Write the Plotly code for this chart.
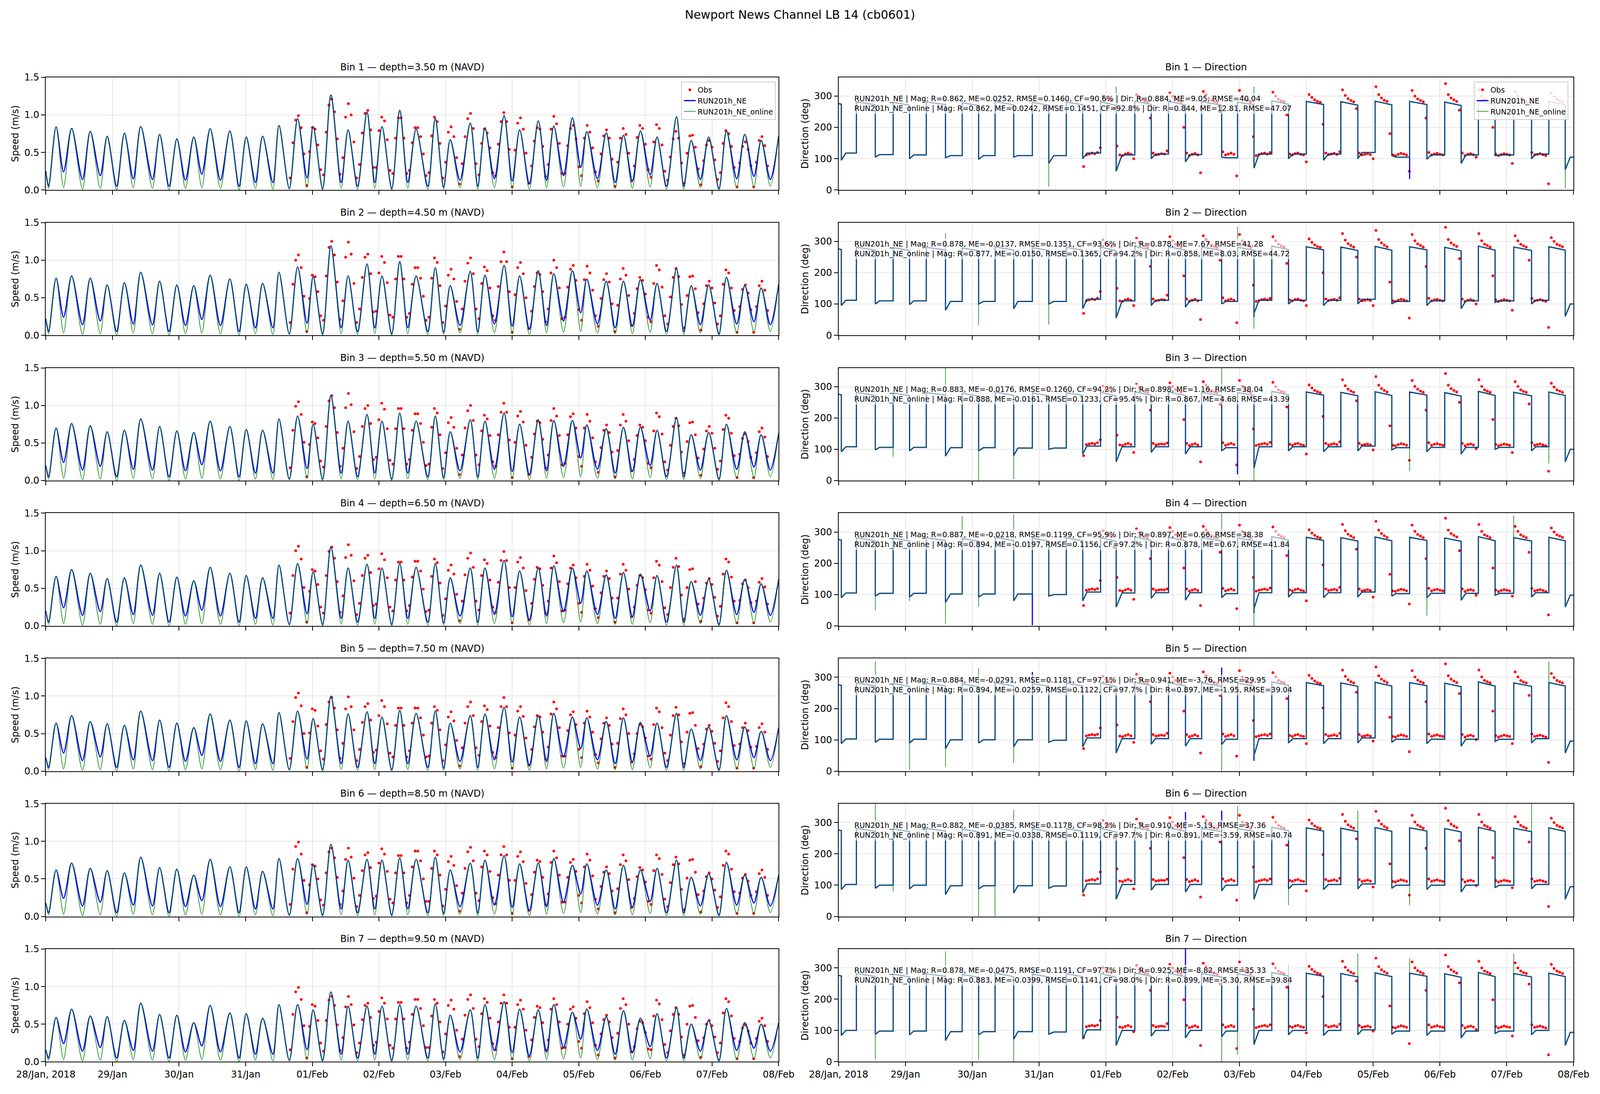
import pandas as pd
import plotly.graph_objects as go
from plotly.subplots import make_subplots

# ---------------- time base (hours after 28 Jan 2018 00:00) ----------------
start_time = pd.Timestamp("2018-01-28 00:00")
end_hour = 264.0

# slack (speed minima) and speed maxima of the model, shared by all bins
trough_hours = [1.0, 6.4, 13.2, 19.6, 25.5, 31.5, 38.4, 44.4, 50.3, 56.2, 62.9, 69.6, 75.5, 81.8,
                87.7, 94.1, 99.7, 106.4, 112.3, 118.5, 124.6, 130.4, 137.6, 143.3, 149.2, 155.6,
                161.6, 168.0, 174.2, 180.4, 186.5, 192.7, 198.7, 205.1, 211.3, 217.7, 223.6, 229.8,
                235.8, 242.5, 248.9, 255.1, 261.0]
peak_hours = [3.7, 9.3, 16.0, 22.1, 28.3, 34.2, 41.0, 47.2, 53.3, 59.2, 66.3, 72.2, 78.1, 84.0,
              90.7, 96.3, 102.7, 108.9, 115.7, 121.1, 127.5, 133.4, 140.3, 145.7, 152.9, 158.2,
              165.1, 170.7, 177.4, 183.0, 189.7, 194.9, 201.9, 208.1, 214.2, 220.2, 227.2, 232.5,
              238.8, 245.2, 251.8, 257.7]
# time at which the ebb direction settles on its plateau
ebb_knee_hours = [2.6, 14.7, 27.0, 40.2, 52.0, 64.4, 77.3, 89.2, 101.8, 113.8, 126.3, 139.1, 151.0,
                  163.1, 175.9, 188.0, 200.2, 212.8, 225.3, 237.3, 250.4, 262.8]

blue_trough_speed = [0.05, 0.24, 0.14, 0.19, 0.05, 0.15, 0.14, 0.05, 0.13, 0.21, 0.13, 0.05, 0.10, 0.10,
                     0.02, 0.16, 0.02, 0.10, 0.05, 0.10, 0.02, 0.10, 0.05, 0.04, 0.13, 0.05, 0.15, 0.12,
                     0.08, 0.13, 0.19, 0.30, 0.15, 0.10, 0.12, 0.20, 0.05, 0.05, 0.14, 0.02, 0.15, 0.18, 0.14]
green_trough_speed = [0.02, 0.03, 0.01, 0.02, 0.00, 0.03, 0.02, 0.00, 0.02, 0.03, 0.02, 0.00, 0.02, 0.01,
                      0.01, 0.03, 0.00, 0.02, 0.01, 0.02, 0.00, 0.02, 0.01, 0.01, 0.03, 0.01, 0.03, 0.02,
                      0.01, 0.03, 0.04, 0.05, 0.03, 0.02, 0.02, 0.04, 0.01, 0.01, 0.03, 0.00, 0.03, 0.04, 0.05]

speed_start = [0.25, 0.22, 0.20, 0.20, 0.18, 0.18, 0.16]
speed_end = [0.72, 0.68, 0.63, 0.62, 0.58, 0.55, 0.52]

peak_speed_bin1 = [0.84, 0.82, 0.78, 0.715, 0.755, 0.845, 0.74, 0.68, 0.705, 0.815, 0.785, 0.705, 0.715, 0.86,
                   0.95, 0.845, 1.265, 0.80, 1.035, 0.845, 1.06, 0.81, 0.95, 0.67, 0.89, 0.83, 0.99, 0.80,
                   0.92, 0.85, 0.96, 0.775, 0.76, 0.73, 0.785, 0.705, 0.975, 0.66, 0.705, 0.785, 0.74, 0.66]
peak_speed_bin2 = [0.76, 0.79, 0.76, 0.67, 0.70, 0.84, 0.72, 0.67, 0.66, 0.80, 0.75, 0.68, 0.69, 0.84,
                   0.91, 0.78, 1.19, 0.79, 0.95, 0.79, 0.98, 0.79, 0.90, 0.66, 0.85, 0.80, 0.93, 0.79,
                   0.86, 0.82, 0.86, 0.75, 0.72, 0.72, 0.74, 0.69, 0.89, 0.66, 0.67, 0.77, 0.66, 0.63]
peak_speed_bin3 = [0.70, 0.76, 0.73, 0.65, 0.67, 0.82, 0.72, 0.66, 0.64, 0.79, 0.72, 0.68, 0.67, 0.82,
                   0.86, 0.75, 1.13, 0.79, 0.88, 0.79, 0.90, 0.79, 0.86, 0.65, 0.81, 0.79, 0.90, 0.75,
                   0.81, 0.80, 0.80, 0.74, 0.69, 0.71, 0.71, 0.67, 0.84, 0.61, 0.64, 0.75, 0.65, 0.61]
peak_speed_bin4 = [0.66, 0.75, 0.70, 0.63, 0.64, 0.81, 0.70, 0.65, 0.60, 0.78, 0.70, 0.67, 0.64, 0.81,
                   0.83, 0.72, 1.05, 0.77, 0.82, 0.77, 0.83, 0.78, 0.83, 0.64, 0.77, 0.77, 0.87, 0.73,
                   0.77, 0.80, 0.77, 0.73, 0.68, 0.71, 0.69, 0.67, 0.81, 0.59, 0.62, 0.74, 0.62, 0.56]
peak_speed_bin5 = [0.64, 0.74, 0.66, 0.63, 0.61, 0.80, 0.68, 0.64, 0.58, 0.76, 0.68, 0.67, 0.63, 0.78,
                   0.80, 0.70, 1.00, 0.76, 0.79, 0.72, 0.81, 0.77, 0.80, 0.64, 0.74, 0.76, 0.85, 0.72,
                   0.74, 0.77, 0.72, 0.71, 0.66, 0.71, 0.65, 0.64, 0.77, 0.56, 0.59, 0.74, 0.59, 0.53]
peak_speed_bin6 = [0.62, 0.71, 0.64, 0.61, 0.58, 0.79, 0.65, 0.63, 0.55, 0.76, 0.66, 0.66, 0.60, 0.77,
                   0.77, 0.69, 0.96, 0.75, 0.76, 0.75, 0.78, 0.76, 0.79, 0.62, 0.71, 0.75, 0.81, 0.70,
                   0.71, 0.77, 0.68, 0.70, 0.62, 0.68, 0.62, 0.64, 0.75, 0.52, 0.57, 0.72, 0.55, 0.52]
peak_speed_bin7 = [0.59, 0.70, 0.61, 0.60, 0.55, 0.78, 0.63, 0.62, 0.52, 0.75, 0.65, 0.64, 0.58, 0.76,
                   0.76, 0.69, 0.93, 0.74, 0.74, 0.74, 0.76, 0.74, 0.77, 0.62, 0.69, 0.76, 0.80, 0.70,
                   0.69, 0.76, 0.66, 0.70, 0.60, 0.68, 0.58, 0.64, 0.72, 0.50, 0.55, 0.71, 0.52, 0.50]

# model direction: flood plateau (start, end) shared, ebb (start dip, plateau) per bin
flood_start_dir = [276, 282, 280, 281, 279, 283, 280, 281, 282, 284, 283, 282, 281, 285, 283, 282, 284, 283, 281, 285, 282, 283]
flood_end_dir = [274, 272, 271, 273, 270, 272, 271, 272, 270, 273, 272, 271, 272, 274, 273, 271, 272, 273, 270, 272, 271, 272]

ebb_lo_bin1 = [95, 105, 100, 103, 98, 105, 85, 100, 60, 100, 90, 105, 70, 100, 95, 100, 110, 98, 85, 110, 100, 65]
ebb_hi_bin1 = [118, 113, 112, 110, 110, 110, 110, 118, 112, 115, 113, 103, 115, 115, 115, 120, 105, 112, 112, 112, 115, 105]
ebb_lo_bin2 = [95, 100, 98, 80, 100, 85, 100, 85, 55, 95, 90, 100, 70, 100, 95, 100, 100, 95, 85, 105, 100, 60]
ebb_hi_bin2 = [112, 110, 110, 108, 108, 108, 108, 115, 110, 112, 112, 108, 112, 112, 112, 115, 108, 110, 110, 110, 112, 100]
ebb_lo_bin3 = [92, 98, 95, 78, 95, 80, 100, 85, 60, 90, 85, 95, 40, 95, 92, 95, 98, 92, 85, 100, 95, 60]
ebb_hi_bin3 = [108, 106, 106, 105, 105, 104, 104, 110, 108, 108, 108, 105, 108, 108, 108, 110, 105, 106, 106, 106, 108, 100]
ebb_lo_bin4 = [90, 95, 92, 75, 92, 80, 95, 80, 60, 88, 82, 90, 55, 92, 90, 92, 95, 90, 82, 98, 92, 60]
ebb_hi_bin4 = [105, 104, 104, 102, 102, 102, 100, 108, 105, 106, 106, 103, 106, 106, 106, 108, 103, 104, 104, 104, 106, 98]
ebb_lo_bin5 = [88, 92, 90, 72, 90, 78, 92, 78, 58, 86, 80, 85, 50, 90, 88, 90, 92, 88, 80, 95, 90, 58]
ebb_hi_bin5 = [103, 102, 102, 100, 100, 100, 99, 106, 104, 104, 104, 102, 104, 104, 104, 106, 102, 102, 102, 102, 104, 96]
ebb_lo_bin6 = [86, 90, 88, 70, 88, 75, 90, 75, 55, 84, 78, 82, 55, 88, 86, 88, 90, 86, 78, 92, 88, 55]
ebb_hi_bin6 = [102, 100, 100, 98, 98, 98, 97, 104, 102, 102, 102, 100, 102, 102, 102, 104, 100, 100, 100, 100, 102, 95]
ebb_lo_bin7 = [84, 88, 86, 68, 86, 72, 88, 72, 52, 82, 76, 80, 55, 86, 84, 86, 88, 84, 76, 90, 86, 52]
ebb_hi_bin7 = [100, 98, 98, 96, 96, 96, 95, 102, 100, 100, 100, 98, 100, 100, 100, 102, 98, 98, 98, 98, 100, 94]

# direction spikes at slack (trough index -> degrees)
green_spikes_bin1 = {12: 10, 16: 330, 24: 330, 42: 5}
green_spikes_bin2 = {6: 326, 8: 34, 10: 83, 12: 34, 23: 346, 24: 21}
green_spikes_bin3 = {3: 76, 6: 360, 8: 0, 10: 5, 22: 360, 24: 0, 33: 30, 41: 55}
green_spikes_bin4 = {2: 50, 4: 79, 6: 7, 7: 350, 8: 62, 10: 357, 22: 360, 24: 0, 34: 33, 39: 353}
green_spikes_bin5 = {2: 350, 4: 4, 6: 14, 8: 328, 10: 26, 22: 0, 41: 350}
green_spikes_bin6 = {2: 360, 3: 80, 8: 0, 9: 0, 10: 340, 23: 352, 26: 36, 30: 338, 33: 36, 40: 360}
green_spikes_bin7 = {2: 7, 6: 353, 8: 7, 10: 0, 22: 0, 23: 22, 26: 310, 30: 346, 33: 331, 39: 346}
blue_spikes_bin1 = {33: 35}
blue_spikes_bin2 = {24: 57}
blue_spikes_bin3 = {23: 20}
blue_spikes_bin4 = {11: 2, 24: 40}
blue_spikes_bin5 = {11: 317, 22: 331, 24: 33}
blue_spikes_bin6 = {20: 334, 22: 338}
blue_spikes_bin7 = {20: 360}

# ---------------- observations, hourly from 31 Jan 16:00 ----------------
obs_first_hour = 88
obs_count = 173

obs_speed_bin1 = [.16, .63, .93, .99, .83, .48, .06, .51, .83, .81, .60, .27,
                  .20, .77, 1.13, 1.21, 1.04, .68, .21, .43, .97, 1.15, 1.00, .64, .16,
                  .34, .76, 1.02, 1.06, .80, .30, .30, .79, .97, .92, .67, .26,
                  .22, .69, .96, .96, .69, .22, .26, .63, .83, .83, .71, .48, .19,
                  .23, .72, .97, .91, .62, .16, .37, .77, .84, .71, .43, .08,
                  .35, .71, .95, 1.02, .82, .35, .20, .62, .81, .76, .56, .23,
                  .19, .61, .91, 1.03, .91, .54, .04, .53, .89, .96, .81, .49, .09,
                  .32, .65, .83, .81, .58, .18, .34, .81, .98, .88, .62, .22,
                  .22, .59, .82, .86, .68, .31, .19, .69, .86, .77, .56, .24,
                  .12, .48, .72, .80, .69, .41, .05, .37, .69, .82, .74, .49, .12,
                  .32, .70, .86, .82, .61, .27, .17, .64, .87, .82, .60, .25,
                  .13, .44, .68, .78, .69, .36, .09, .49, .72, .73, .57, .28,
                  .07, .39, .60, .66, .57, .40, .14, .23, .62, .79, .75, .58, .30,
                  .04, .36, .58, .64, .54, .32, .04, .37, .66, .71, .59, .32]
obs_speed_bin2 = [.17, .68, 1.00, 1.07, .90, .52, .05, .49, .80, .78, .58, .26,
                  .20, .79, 1.17, 1.25, 1.07, .71, .21, .46, 1.04, 1.24, 1.08, .69, .17,
                  .35, .77, 1.04, 1.08, .82, .31, .32, .83, 1.05, .97, .70, .27,
                  .24, .75, 1.05, 1.05, .75, .24, .29, .68, .90, .90, .76, .52, .20,
                  .24, .76, 1.03, .97, .66, .17, .39, .80, .88, .75, .45, .08,
                  .35, .72, .96, 1.03, .82, .35, .22, .69, .91, .86, .63, .26,
                  .20, .65, .98, 1.11, .98, .58, .04, .54, .90, .97, .82, .50, .09,
                  .32, .65, .83, .81, .58, .18, .35, .83, 1.00, .90, .63, .22,
                  .24, .64, .88, .93, .73, .34, .20, .74, .92, .83, .60, .26,
                  .12, .49, .74, .82, .71, .42, .05, .40, .75, .89, .80, .53, .13,
                  .29, .62, .77, .73, .55, .24, .18, .69, .93, .87, .64, .26,
                  .15, .51, .77, .89, .78, .41, .10, .53, .78, .79, .62, .30,
                  .07, .42, .66, .72, .63, .43, .15, .26, .68, .87, .83, .63, .33,
                  .04, .38, .61, .67, .56, .34, .04, .38, .66, .72, .60, .33]
obs_speed_bin3 = [.17, .67, .99, 1.05, .88, .51, .05, .48, .78, .76, .57, .26,
                  .18, .72, 1.06, 1.13, .97, .64, .19, .43, .97, 1.16, 1.01, .65, .16,
                  .32, .72, .96, 1.00, .76, .28, .31, .81, 1.03, .95, .69, .27,
                  .22, .69, .96, .96, .69, .22, .28, .67, .89, .89, .76, .51, .20,
                  .22, .71, .96, .90, .61, .16, .37, .77, .84, .71, .43, .08,
                  .34, .70, .93, 1.00, .80, .34, .21, .66, .87, .82, .60, .25,
                  .19, .61, .91, 1.03, .91, .54, .04, .51, .86, .92, .78, .47, .08,
                  .31, .62, .79, .77, .55, .17, .34, .80, .96, .86, .60, .21,
                  .23, .61, .85, .89, .70, .32, .19, .70, .88, .79, .57, .25,
                  .11, .44, .67, .74, .64, .38, .05, .40, .74, .88, .79, .53, .13,
                  .28, .60, .74, .71, .53, .23, .17, .66, .90, .85, .62, .25,
                  .14, .47, .72, .83, .73, .38, .10, .52, .77, .78, .61, .30,
                  .07, .42, .66, .72, .63, .43, .15, .26, .68, .87, .83, .63, .33,
                  .04, .35, .56, .62, .52, .31, .04, .37, .65, .70, .58, .32]
obs_speed_bin4 = [.17, .67, 1.00, 1.06, .89, .51, .05, .46, .75, .73, .55, .25,
                  .17, .67, .99, 1.05, .90, .59, .18, .40, .91, 1.08, .94, .60, .15,
                  .30, .67, .90, .94, .71, .27, .29, .76, .96, .88, .64, .25,
                  .20, .61, .85, .85, .61, .20, .27, .65, .86, .86, .73, .49, .19,
                  .21, .66, .89, .84, .57, .14, .36, .74, .81, .69, .42, .07,
                  .33, .68, .90, .97, .78, .33, .21, .67, .88, .83, .61, .25,
                  .18, .58, .87, .99, .87, .51, .04, .51, .85, .91, .77, .47, .08,
                  .30, .62, .78, .76, .54, .17, .33, .77, .93, .84, .59, .20,
                  .21, .56, .77, .81, .64, .30, .18, .66, .82, .74, .53, .23,
                  .11, .44, .66, .73, .63, .37, .05, .37, .69, .82, .74, .49, .12,
                  .25, .54, .67, .64, .48, .21, .17, .64, .86, .81, .59, .24,
                  .15, .51, .78, .90, .79, .41, .09, .51, .75, .76, .59, .29,
                  .06, .37, .57, .63, .55, .38, .13, .26, .69, .89, .85, .65, .33,
                  .04, .34, .56, .61, .51, .31, .04, .33, .58, .63, .52, .29]
obs_speed_bin5 = [.17, .66, .98, 1.04, .87, .50, .05, .51, .83, .81, .60, .27,
                  .16, .62, .92, .98, .84, .55, .17, .37, .83, .99, .86, .55, .14,
                  .29, .65, .86, .90, .68, .25, .28, .74, .94, .86, .63, .24,
                  .19, .61, .84, .84, .61, .19, .27, .64, .84, .84, .71, .48, .19,
                  .20, .64, .86, .81, .55, .14, .35, .72, .79, .67, .41, .07,
                  .31, .64, .86, .92, .74, .31, .21, .66, .87, .82, .60, .25,
                  .18, .58, .86, .98, .86, .51, .04, .48, .80, .86, .73, .44, .08,
                  .29, .59, .74, .72, .52, .16, .32, .76, .92, .83, .58, .20,
                  .20, .54, .75, .79, .62, .29, .18, .64, .80, .72, .52, .22,
                  .11, .43, .64, .71, .61, .36, .05, .37, .70, .83, .75, .50, .12,
                  .23, .50, .62, .59, .44, .20, .16, .62, .84, .79, .58, .24,
                  .14, .48, .74, .85, .75, .39, .10, .52, .77, .78, .61, .30,
                  .06, .36, .56, .61, .53, .37, .13, .27, .71, .91, .86, .66, .34,
                  .04, .36, .58, .64, .54, .32, .04, .33, .58, .63, .52, .29]
obs_speed_bin6 = [.16, .63, .93, .99, .83, .48, .05, .42, .69, .67, .50, .22,
                  .15, .58, .86, .91, .78, .52, .16, .34, .76, .91, .79, .51, .13,
                  .28, .61, .82, .85, .65, .24, .27, .71, .90, .83, .60, .23,
                  .18, .58, .81, .81, .58, .18, .28, .66, .87, .87, .74, .50, .20,
                  .20, .64, .87, .82, .55, .14, .36, .73, .80, .68, .41, .07,
                  .31, .64, .86, .92, .74, .31, .21, .66, .87, .82, .60, .25,
                  .17, .55, .82, .93, .82, .48, .04, .48, .80, .86, .73, .44, .08,
                  .29, .59, .75, .73, .52, .16, .30, .72, .87, .78, .55, .19,
                  .19, .52, .72, .76, .60, .28, .18, .66, .83, .75, .54, .23,
                  .10, .40, .59, .66, .57, .34, .05, .37, .69, .82, .74, .49, .12,
                  .24, .53, .65, .62, .46, .20, .16, .61, .82, .77, .56, .23,
                  .13, .45, .69, .79, .70, .36, .09, .51, .75, .76, .59, .29,
                  .06, .34, .53, .58, .50, .35, .12, .26, .68, .87, .83, .63, .33,
                  .04, .31, .51, .56, .47, .28, .04, .33, .57, .62, .52, .28]
obs_speed_bin7 = [.16, .63, .93, .99, .83, .48, .05, .47, .76, .74, .55, .25,
                  .14, .55, .82, .87, .75, .49, .15, .32, .73, .87, .76, .49, .12,
                  .25, .56, .75, .78, .59, .22, .26, .67, .85, .78, .57, .22,
                  .18, .57, .79, .79, .57, .18, .26, .63, .83, .83, .71, .48, .19,
                  .19, .61, .83, .78, .53, .13, .37, .75, .82, .70, .42, .07,
                  .30, .62, .83, .89, .71, .30, .20, .64, .84, .79, .58, .24,
                  .16, .53, .78, .89, .78, .46, .04, .46, .76, .82, .70, .42, .07,
                  .29, .59, .74, .72, .52, .16, .29, .70, .84, .76, .53, .18,
                  .19, .50, .70, .73, .58, .27, .18, .64, .80, .72, .52, .22,
                  .09, .37, .56, .62, .53, .32, .05, .38, .71, .84, .76, .50, .13,
                  .20, .44, .54, .52, .39, .17, .16, .61, .82, .77, .56, .23,
                  .12, .41, .63, .72, .63, .33, .09, .50, .74, .75, .59, .28,
                  .06, .32, .50, .55, .48, .33, .12, .25, .65, .84, .80, .61, .31,
                  .04, .27, .45, .49, .41, .25, .04, .31, .54, .58, .48, .27]

obs_dir_bin1 = [75, 112, 115, 118, 116, 120, 135, 300, 292, 288, 285, 262,
                140, 112, 110, 115, 118, 114, 100, 305, 296, 290, 284, 282, 230,
                118, 112, 114, 116, 115, 125, 310, 300, 290, 285, 282, 200,
                118, 110, 114, 117, 112, 55, 315, 305, 293, 287, 282, 280, 250,
                122, 112, 115, 118, 114, 45, 318, 300, 290, 286, 280, 170,
                110, 113, 116, 118, 115, 120, 312, 300, 290, 285, 282, 240,
                115, 112, 116, 118, 114, 112, 90, 305, 296, 288, 283, 280, 210,
                118, 113, 115, 117, 114, 122, 320, 302, 292, 286, 282, 260,
                118, 112, 114, 116, 113, 100, 330, 305, 294, 287, 283, 180,
                112, 110, 114, 117, 115, 112, 60, 318, 300, 291, 286, 282, 230,
                120, 112, 115, 117, 114, 112, 340, 305, 294, 288, 283, 255,
                118, 110, 114, 116, 113, 105, 320, 300, 290, 286, 282, 200,
                115, 110, 113, 116, 114, 112, 85, 315, 300, 290, 285, 282, 250,
                120, 112, 114, 116, 113, 110, 20, 310, 298, 290, 286, 282]
obs_dir_bin2 = [70, 110, 113, 116, 114, 118, 140, 305, 294, 289, 284, 255,
                150, 110, 108, 113, 116, 112, 95, 310, 298, 291, 285, 281, 220,
                116, 110, 112, 114, 113, 128, 315, 302, 291, 286, 281, 190,
                116, 108, 112, 115, 110, 50, 318, 306, 294, 288, 283, 280, 240,
                120, 110, 113, 116, 112, 40, 322, 302, 292, 287, 281, 160,
                108, 111, 114, 116, 113, 118, 315, 302, 291, 286, 282, 230,
                113, 110, 114, 116, 112, 110, 95, 308, 297, 289, 284, 281, 200,
                116, 111, 113, 115, 112, 120, 325, 304, 293, 287, 282, 250,
                116, 110, 112, 114, 111, 95, 335, 306, 295, 288, 283, 170,
                110, 108, 112, 115, 113, 110, 55, 322, 302, 292, 287, 282, 220,
                118, 110, 113, 115, 112, 110, 345, 306, 295, 289, 284, 245,
                116, 108, 112, 114, 111, 100, 325, 302, 291, 287, 282, 190,
                113, 108, 111, 114, 112, 110, 80, 318, 302, 291, 286, 282, 240,
                118, 110, 112, 114, 111, 108, 25, 312, 300, 291, 287, 283]
obs_dir_bin3 = [80, 115, 117, 119, 117, 121, 130, 302, 293, 288, 284, 258,
                145, 114, 112, 116, 119, 115, 90, 308, 297, 290, 285, 282, 225,
                119, 114, 116, 117, 116, 120, 312, 301, 291, 286, 282, 195,
                119, 112, 115, 118, 114, 60, 316, 305, 293, 287, 283, 281, 245,
                121, 113, 116, 119, 115, 50, 320, 301, 291, 286, 281, 165,
                112, 115, 117, 119, 116, 122, 314, 301, 290, 285, 282, 235,
                116, 113, 117, 119, 115, 113, 85, 306, 296, 288, 284, 281, 205,
                119, 114, 116, 118, 115, 124, 322, 303, 292, 286, 282, 255,
                119, 113, 115, 117, 114, 98, 332, 305, 294, 288, 283, 175,
                113, 111, 115, 118, 116, 113, 65, 320, 301, 292, 286, 282, 225,
                121, 113, 116, 118, 115, 113, 342, 305, 294, 288, 283, 250,
                119, 111, 115, 117, 114, 102, 322, 301, 290, 286, 282, 195,
                116, 111, 114, 117, 115, 113, 90, 316, 301, 290, 285, 282, 245,
                121, 113, 115, 117, 114, 111, 30, 311, 299, 290, 286, 282]
obs_dir_bin4 = [65, 114, 116, 118, 116, 119, 145, 304, 294, 289, 285, 250,
                155, 113, 111, 115, 118, 114, 85, 310, 298, 291, 285, 281, 215,
                118, 113, 115, 116, 115, 118, 314, 302, 291, 286, 281, 185,
                118, 111, 114, 117, 113, 65, 318, 306, 294, 288, 283, 281, 235,
                120, 112, 115, 118, 114, 55, 322, 302, 292, 286, 281, 155,
                111, 114, 116, 118, 115, 121, 316, 302, 291, 286, 282, 225,
                115, 112, 116, 118, 114, 112, 80, 307, 297, 289, 284, 281, 195,
                118, 113, 115, 117, 114, 123, 324, 304, 293, 287, 282, 245,
                118, 112, 114, 116, 113, 92, 334, 306, 295, 288, 283, 165,
                112, 110, 114, 117, 115, 112, 70, 322, 302, 292, 287, 282, 215,
                120, 112, 115, 117, 114, 112, 344, 306, 295, 289, 284, 240,
                118, 110, 114, 116, 113, 98, 324, 302, 291, 287, 282, 185,
                115, 110, 113, 116, 114, 112, 95, 318, 302, 291, 286, 282, 235,
                120, 112, 114, 116, 113, 110, 35, 313, 300, 291, 287, 283]
obs_dir_bin5 = [72, 113, 115, 117, 115, 118, 138, 303, 293, 288, 284, 255,
                148, 112, 110, 114, 117, 113, 92, 309, 297, 290, 284, 281, 222,
                117, 112, 114, 115, 114, 121, 313, 301, 290, 285, 281, 192,
                117, 110, 113, 116, 112, 58, 317, 305, 293, 287, 282, 280, 242,
                119, 111, 114, 117, 113, 48, 321, 301, 291, 286, 281, 162,
                110, 113, 115, 117, 114, 119, 315, 301, 290, 285, 282, 232,
                114, 111, 115, 117, 113, 111, 88, 306, 296, 288, 283, 280, 202,
                117, 112, 114, 116, 113, 121, 323, 303, 292, 286, 282, 252,
                117, 111, 113, 115, 112, 96, 333, 305, 294, 288, 283, 172,
                111, 109, 113, 116, 114, 111, 62, 321, 301, 291, 286, 282, 222,
                119, 111, 114, 116, 113, 111, 343, 305, 294, 288, 283, 248,
                117, 109, 113, 115, 112, 101, 323, 301, 290, 286, 282, 192,
                114, 109, 112, 115, 113, 111, 88, 317, 301, 290, 285, 282, 242,
                119, 111, 113, 115, 112, 109, 28, 312, 299, 290, 286, 282]
obs_dir_bin6 = [68, 114, 116, 118, 116, 120, 142, 306, 295, 289, 285, 252,
                152, 113, 111, 115, 118, 114, 88, 311, 298, 291, 285, 281, 218,
                118, 113, 115, 116, 115, 119, 316, 302, 291, 286, 281, 188,
                118, 111, 114, 117, 113, 62, 319, 306, 294, 288, 283, 281, 238,
                120, 112, 115, 118, 114, 52, 323, 302, 292, 286, 281, 158,
                111, 114, 116, 118, 115, 120, 317, 302, 291, 286, 282, 228,
                115, 112, 116, 118, 114, 112, 82, 308, 297, 289, 284, 281, 198,
                118, 113, 115, 117, 114, 122, 326, 304, 293, 287, 282, 248,
                118, 112, 114, 116, 113, 94, 336, 306, 295, 288, 283, 168,
                112, 110, 114, 117, 115, 112, 68, 323, 302, 292, 287, 282, 218,
                120, 112, 115, 117, 114, 112, 346, 306, 295, 289, 284, 242,
                118, 110, 114, 116, 113, 99, 326, 302, 291, 287, 282, 188,
                115, 110, 113, 116, 114, 112, 92, 319, 302, 291, 286, 282, 238,
                120, 112, 114, 116, 113, 110, 32, 314, 300, 291, 287, 283]
obs_dir_bin7 = [78, 112, 114, 116, 114, 117, 132, 301, 292, 287, 284, 260,
                142, 111, 109, 113, 116, 112, 96, 307, 296, 289, 284, 281, 228,
                116, 111, 113, 114, 113, 122, 311, 300, 290, 285, 281, 198,
                116, 109, 112, 115, 111, 52, 315, 304, 292, 287, 282, 280, 248,
                118, 110, 113, 116, 112, 42, 319, 300, 290, 285, 281, 168,
                109, 112, 114, 116, 113, 118, 313, 300, 290, 285, 282, 238,
                113, 110, 114, 116, 112, 110, 92, 305, 295, 288, 283, 280, 208,
                116, 111, 113, 115, 112, 120, 321, 302, 292, 286, 282, 258,
                116, 110, 112, 114, 111, 98, 331, 304, 294, 288, 283, 178,
                110, 108, 112, 115, 113, 110, 58, 319, 300, 291, 286, 282, 228,
                118, 110, 113, 115, 112, 110, 341, 304, 294, 288, 283, 252,
                116, 108, 112, 114, 111, 103, 321, 300, 290, 286, 282, 198,
                113, 108, 111, 114, 112, 110, 82, 316, 300, 290, 285, 282, 248,
                118, 110, 112, 114, 111, 108, 22, 311, 298, 290, 286, 282]

depths = [3.5, 4.5, 5.5, 6.5, 7.5, 8.5, 9.5]

mag_ne = [(0.862, 0.0252, 0.1460, 90.6), (0.878, -0.0137, 0.1351, 93.6), (0.883, -0.0176, 0.1260, 94.2),
          (0.887, -0.0218, 0.1199, 95.9), (0.884, -0.0291, 0.1181, 97.1), (0.882, -0.0385, 0.1178, 98.2),
          (0.878, -0.0475, 0.1191, 97.7)]
dir_ne = [(0.884, 9.05, 40.04), (0.878, 7.67, 41.28), (0.898, 1.16, 38.04), (0.897, 0.66, 38.38),
          (0.941, -3.76, 29.95), (0.910, -5.13, 37.36), (0.925, -8.82, 35.33)]
mag_online = [(0.862, 0.0242, 0.1451, 92.8), (0.877, -0.0150, 0.1365, 94.2), (0.888, -0.0161, 0.1233, 95.4),
              (0.894, -0.0197, 0.1156, 97.2), (0.894, -0.0259, 0.1122, 97.7), (0.891, -0.0338, 0.1119, 97.7),
              (0.883, -0.0399, 0.1141, 98.0)]
dir_online = [(0.844, 12.81, 47.07), (0.858, 8.03, 44.72), (0.867, 4.68, 43.39), (0.878, 0.67, 41.84),
              (0.897, -1.95, 39.04), (0.891, -3.59, 40.74), (0.899, -5.30, 39.84)]

day_labels = ["28/Jan, 2018", "29/Jan", "30/Jan", "31/Jan", "01/Feb", "02/Feb",
              "03/Feb", "04/Feb", "05/Feb", "06/Feb", "07/Feb", "08/Feb"]

peak_speed = [peak_speed_bin1, peak_speed_bin2, peak_speed_bin3, peak_speed_bin4,
              peak_speed_bin5, peak_speed_bin6, peak_speed_bin7]
ebb_lo = [ebb_lo_bin1, ebb_lo_bin2, ebb_lo_bin3, ebb_lo_bin4, ebb_lo_bin5, ebb_lo_bin6, ebb_lo_bin7]
ebb_hi = [ebb_hi_bin1, ebb_hi_bin2, ebb_hi_bin3, ebb_hi_bin4, ebb_hi_bin5, ebb_hi_bin6, ebb_hi_bin7]
green_spikes = [green_spikes_bin1, green_spikes_bin2, green_spikes_bin3, green_spikes_bin4,
                green_spikes_bin5, green_spikes_bin6, green_spikes_bin7]
blue_spikes = [blue_spikes_bin1, blue_spikes_bin2, blue_spikes_bin3, blue_spikes_bin4,
               blue_spikes_bin5, blue_spikes_bin6, blue_spikes_bin7]
obs_speed = [obs_speed_bin1, obs_speed_bin2, obs_speed_bin3, obs_speed_bin4,
             obs_speed_bin5, obs_speed_bin6, obs_speed_bin7]
obs_dir = [obs_dir_bin1, obs_dir_bin2, obs_dir_bin3, obs_dir_bin4, obs_dir_bin5, obs_dir_bin6, obs_dir_bin7]


def to_time(hours):
    return start_time + pd.to_timedelta(hours, unit="h")


def speed_line(first, peaks, troughs, last):
    # model speed: slack / max sequence
    hrs, vals = [0.0], [first]
    for i, th in enumerate(trough_hours):
        hrs.append(th)
        vals.append(troughs[i])
        if i < len(peak_hours):
            hrs.append(peak_hours[i])
            vals.append(peaks[i])
    hrs.append(end_hour)
    vals.append(last)
    return to_time(hrs), vals


def dir_line(lo, hi, spikes):
    # model direction: ebb / flood plateaus switching at slack
    hrs, vals = [0.0], [flood_start_dir[0]]
    for i, th in enumerate(trough_hours):
        k = i // 2
        if i % 2 == 0:
            before, after = flood_end_dir[k], lo[k]
        else:
            before, after = hi[k], flood_start_dir[k + 1]
        hrs.append(th)
        vals.append(before)
        if i in spikes:
            hrs.append(th)
            vals.append(spikes[i])
        hrs.append(th)
        vals.append(after)
        if i % 2 == 0:
            hrs.append(ebb_knee_hours[k])
            vals.append(hi[k])
    hrs.append(end_hour)
    vals.append(hi[-1])
    return to_time(hrs), vals


def stat_line(name, mag, dr):
    return (f"{name} | Mag: R={mag[0]:.3f}, ME={mag[1]:.4f}, RMSE={mag[2]:.4f}, CF={mag[3]:.1f}% | "
            f"Dir: R={dr[0]:.3f}, ME={dr[1]:.2f}, RMSE={dr[2]:.2f}")


obs_time = pd.date_range(start_time + pd.Timedelta(hours=obs_first_hour), periods=obs_count, freq="h")
day_ticks = pd.date_range("2018-01-28", "2018-02-08", freq="D")

# layout as fractions of the reference page (5000 x 2800)
W, H = 5000, 2800
col_px = [(134, 2433), (2621, 4927)]
row_top, row_step, row_h = 191, 374, 290

fig = make_subplots(rows=7, cols=2)
FONT = "DejaVu Sans"

for b in range(7):
    for c in range(2):
        first = b == 0
        leg = "legend" if c == 0 else "legend2"
        if c == 0:
            ox, oy = obs_time, obs_speed[b]
            bx, by = speed_line(speed_start[b], peak_speed[b], blue_trough_speed, speed_end[b])
            gx, gy = speed_line(speed_start[b], peak_speed[b], green_trough_speed, speed_end[b])
            shape = dict(shape="spline", smoothing=0.85)
        else:
            ox, oy = obs_time, obs_dir[b]
            bx, by = dir_line(ebb_lo[b], ebb_hi[b], blue_spikes[b])
            gx, gy = dir_line(ebb_lo[b], ebb_hi[b], green_spikes[b])
            shape = dict(shape="linear")
        fig.add_trace(go.Scatter(x=ox, y=oy, mode="markers", name="Obs",
                                 marker=dict(color="red", size=7, line=dict(width=0)),
                                 showlegend=first, legend=leg), row=b + 1, col=c + 1)
        fig.add_trace(go.Scatter(x=bx, y=by, mode="lines", name="RUN201h_NE",
                                 line=dict(color="#0000ff", width=3, **shape),
                                 showlegend=first, legend=leg), row=b + 1, col=c + 1)
        fig.add_trace(go.Scatter(x=gx, y=gy, mode="lines", name="RUN201h_NE_online",
                                 line=dict(color="#008000", width=1.5, **shape),
                                 showlegend=first, legend=leg), row=b + 1, col=c + 1)

annotations = []
for b in range(7):
    top = row_top + row_step * b
    for c in range(2):
        n = b * 2 + c + 1
        sfx = "" if n == 1 else str(n)
        x0, x1 = col_px[c]
        fig.layout[f"xaxis{sfx}"].update(
            domain=[x0 / W, x1 / W], type="date", automargin=False,
            range=[day_ticks[0], day_ticks[-1]],
            tickvals=list(day_ticks), ticktext=day_labels, showticklabels=(b == 6),
            ticks="outside", ticklen=10, tickwidth=2, tickcolor="black",
            showline=True, linecolor="black", linewidth=2, mirror=True,
            showgrid=True, gridcolor="#e6e6e6", gridwidth=2, zeroline=False,
            tickfont=dict(size=24, color="black"))
        if c == 0:
            yr, tv, tt, ytitle = [0, 1.5], [0, 0.5, 1.0, 1.5], ["0.0", "0.5", "1.0", "1.5"], "Speed (m/s)"
        else:
            yr, tv, tt, ytitle = [0, 360], [0, 100, 200, 300], ["0", "100", "200", "300"], "Direction (deg)"
        fig.layout[f"yaxis{sfx}"].update(
            domain=[1 - (top + row_h) / H, 1 - top / H], range=yr, automargin=False,
            tickvals=tv, ticktext=tt,
            ticks="outside", ticklen=10, tickwidth=2, tickcolor="black",
            showline=True, linecolor="black", linewidth=2, mirror=True,
            showgrid=True, gridcolor="#e6e6e6", gridwidth=2, zeroline=False,
            tickfont=dict(size=24, color="black"),
            title=dict(text=ytitle, font=dict(size=24, color="black"), standoff=8))

        if c == 0:
            title = f"Bin {b + 1} — depth={depths[b]:.2f} m (NAVD)"
        else:
            title = f"Bin {b + 1} — Direction"
        annotations.append(dict(text=title, xref="paper", yref="paper",
                                x=(x0 + x1) / 2 / W, y=1 - (top - 26) / H,
                                xanchor="center", yanchor="middle", showarrow=False,
                                font=dict(size=24, color="black")))
        if c == 1:
            txt = stat_line("RUN201h_NE", mag_ne[b], dir_ne[b]) + "<br>" + \
                  stat_line("RUN201h_NE_online", mag_online[b], dir_online[b])
            annotations.append(dict(text=txt, xref=f"x{sfx} domain", yref=f"y{sfx} domain",
                                    x=0.02, y=0.86, xanchor="left", yanchor="top", align="left",
                                    showarrow=False, bgcolor="rgba(255,255,255,0.6)", borderpad=2,
                                    font=dict(size=19, color="black")))

legend_style = dict(yanchor="top", xanchor="right", bgcolor="rgba(255,255,255,0.85)",
                    bordercolor="#cccccc", borderwidth=2, font=dict(size=19, color="black"))

fig.update_layout(
    autosize=True,
    margin=dict(l=0, r=0, t=0, b=0, pad=0),
    paper_bgcolor="white", plot_bgcolor="white",
    font=dict(family=FONT, color="black"),
    title=dict(text="Newport News Channel LB 14 (cb0601)", x=0.5, xanchor="center",
               y=1 - 30 / H, yanchor="middle", font=dict(size=30, color="black")),
    annotations=annotations,
    legend=dict(x=2424 / W, y=1 - 202 / H, **legend_style),
    legend2=dict(x=4911 / W, y=1 - 202 / H, **legend_style),
)

# let the figure fill the browser window
fig.write_html("out.html", default_width="100%", default_height="calc(100vh - 16px)",
               config={"responsive": True})
